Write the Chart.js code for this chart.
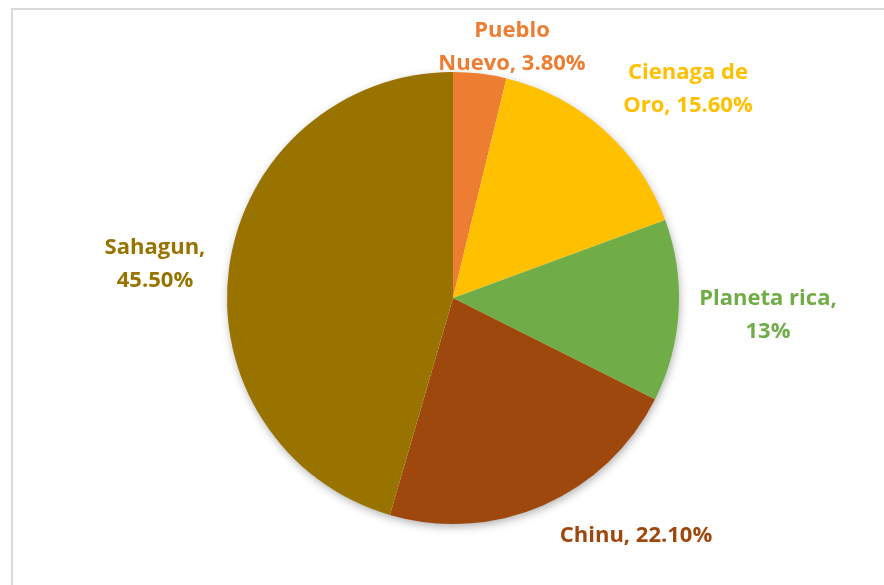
<!DOCTYPE html>
<html>
<head>
<meta charset="utf-8">
<script src="https://cdn.jsdelivr.net/npm/chart.js@4/dist/chart.umd.min.js"></script>
<style>
  html, body { margin: 0; padding: 0; background: #fff; }
  canvas { display: block; }
</style>
</head>
<body>
<canvas id="myChart" width="884" height="585"></canvas>
<script>
// Datos por municipio
const municipios = ['Pueblo Nuevo', 'Cienaga de Oro', 'Planeta rica', 'Chinu', 'Sahagun'];
const porcentajes = [3.8, 15.6, 13, 22.1, 45.5];
const etiquetas = [
    ['Pueblo', 'Nuevo, 3.80%'],
    ['Cienaga de', 'Oro, 15.60%'],
    ['Planeta rica,', '13%'],
    ['Chinu, 22.10%'],
    ['Sahagun,', '45.50%']
];
const colores = ['#ED7D31', '#FFC000', '#70AD47', '#9E480E', '#997300'];

// posicion de cada etiqueta respecto al centro del pastel
const offsetsEtiquetas = [
    [59, -251], [235, -209], [315, 17], [183, 238], [-298, -34]
];

// marco gris alrededor del grafico
const marco = {
    id: 'marco',
    beforeDraw(chart) {
        const c = chart.ctx;
        c.save();
        c.strokeStyle = '#d9d9d9';
        c.lineWidth = 2;
        c.beginPath();
        c.moveTo(12, chart.height);
        c.lineTo(12, 9);
        c.lineTo(chart.width, 9);
        c.stroke();
        c.restore();
    }
};

// sombra suave bajo el pastel
const sombra = {
    id: 'sombra',
    beforeDatasetsDraw(chart) {
        const arc = chart.getDatasetMeta(0).data[0];
        const c = chart.ctx;
        c.save();
        c.shadowColor = 'rgba(0,0,0,0.35)';
        c.shadowBlur = 10;
        c.shadowOffsetX = 1;
        c.shadowOffsetY = 3;
        c.fillStyle = '#fff';
        c.beginPath();
        c.arc(arc.x, arc.y, arc.outerRadius - 1, 0, Math.PI * 2);
        c.fill();
        c.restore();
    }
};

const etiquetasPlugin = {
    id: 'etiquetas',
    afterDatasetsDraw(chart) {
        const arcs = chart.getDatasetMeta(0).data;
        const c = chart.ctx;
        c.save();
        c.font = 'bold 22px "Open Sans"';
        c.textAlign = 'center';
        c.textBaseline = 'middle';
        const lh = 33;
        arcs.forEach((arc, i) => {
            const lines = etiquetas[i];
            const cx = arc.x + offsetsEtiquetas[i][0];
            const cy = arc.y + offsetsEtiquetas[i][1];
            c.fillStyle = colores[i];
            lines.forEach((t, j) => {
                c.fillText(t, cx, cy + (j - (lines.length - 1) / 2) * lh);
            });
        });
        c.restore();
    }
};

const ctx = document.getElementById('myChart');

new Chart(ctx, {
    type: 'pie',
    data: {
        labels: municipios,
        datasets: [{
            data: porcentajes,
            backgroundColor: colores,
            borderWidth: 0
        }]
    },
    options: {
        responsive: false,
        animation: false,
        layout: {
            padding: { left: 227, right: 205, top: 72, bottom: 61 }
        },
        plugins: {
            legend: { display: false },
            tooltip: { enabled: false }
        }
    },
    plugins: [marco, sombra, etiquetasPlugin]
});
</script>
</body>
</html>
